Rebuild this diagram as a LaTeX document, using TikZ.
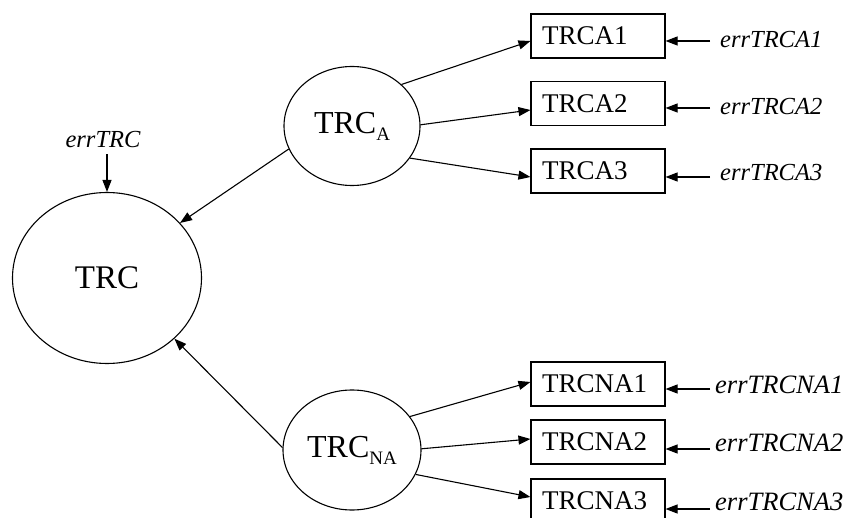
\documentclass[tikz,border=0pt]{standalone}
\usepackage{fontspec}
\setmainfont{Liberation Serif}
\usetikzlibrary{arrows.meta,shapes.geometric}
\begin{document}
\begin{tikzpicture}[x=1pt,y=-1pt,
  arr/.style={line width=1.1pt,-{Triangle[length=12pt,width=9pt]}},
  ell/.style={ellipse,draw,line width=1.1pt,inner sep=0pt},
  box/.style={draw,line width=1.1pt,minimum height=44pt,inner xsep=11pt,inner ysep=0pt,
    text width=112pt,align=left,font=\fontsize{27}{27}\selectfont},
  errA/.style={anchor=west,inner sep=0pt,font=\fontsize{24.5}{24.5}\selectfont\itshape},
  errN/.style={anchor=west,inner sep=0pt,font=\fontsize{26.5}{26.5}\selectfont\itshape}]
\clip (0,0) rectangle (845,518);
% main ellipses
\node[ell,minimum width=189pt,minimum height=171pt,font=\fontsize{33}{33}\selectfont] (TRC) at (107,278) {TRC};
\node[ell,minimum width=136pt,minimum height=119pt,font=\fontsize{32}{32}\selectfont] (TA) at (352,126)
  {TRC\raisebox{-7pt}{\fontsize{19}{19}\selectfont A}};
\node[ell,minimum width=138pt,minimum height=120pt,font=\fontsize{32}{32}\selectfont] (TNA) at (352,450)
  {TRC\raisebox{-7pt}{\fontsize{19}{19}\selectfont NA}};
\node[inner sep=0pt,font=\fontsize{24.5}{24.5}\selectfont\itshape] (eT) at (103,140) {errTRC};
% boxes
\node[box] (A1) at (598,36) {TRCA1};
\node[box] (A2) at (598,103.5) {TRCA2};
\node[box] (A3) at (598,171) {TRCA3};
\node[box] (N1) at (598,384) {TRCNA1};
\node[box] (N2) at (598,442) {TRCNA2};
\node[box] (N3) at (598,501) {TRCNA3};
% error labels
\node[errA] (eA1) at (720,40) {errTRCA1};
\node[errA] (eA2) at (720,107) {errTRCA2};
\node[errA] (eA3) at (720,173) {errTRCA3};
\node[errN] (eN1) at (715,385) {errTRCNA1};
\node[errN] (eN2) at (715,443) {errTRCNA2};
\node[errN] (eN3) at (715,502) {errTRCNA3};
% connectors to TRC
\coordinate (sT) at ([yshift=-6pt]eT.south -| TRC.north);
\draw[arr] (sT) -- (TRC.north);
\draw[arr] (TA.200.5) -- (TRC.37);
\draw[arr] (TNA.178) -- (TRC.-42);
% TRC_A / TRC_NA to indicators
\draw[arr] (TA.40) -- ([yshift=-5pt]A1.west);
\draw[arr] (TA.1) -- ([yshift=-6.5pt]A2.west);
\draw[arr] (TA.-29.5) -- ([yshift=-6pt]A3.west);
\draw[arr] (TNA.30) -- ([yshift=2pt]N1.west);
\draw[arr] (TNA.1) -- ([yshift=3pt]N2.west);
\draw[arr] (TNA.-21.6) -- ([yshift=4pt]N3.west);
% error arrows
\coordinate (sA1) at ([xshift=-10pt,yshift=-1pt]eA1.west);
\coordinate (sA2) at ([xshift=-10pt,yshift=-1pt]eA2.west);
\coordinate (sA3) at ([xshift=-10pt,yshift=-4pt]eA3.west);
\coordinate (sN1) at ([xshift=-5pt,yshift=-4pt]eN1.west);
\coordinate (sN2) at ([xshift=-5pt,yshift=-6pt]eN2.west);
\coordinate (sN3) at ([xshift=-5pt,yshift=-7pt]eN3.west);
\draw[arr] (sA1) -- (A1.east |- sA1);
\draw[arr] (sA2) -- (A2.east |- sA2);
\draw[arr] (sA3) -- (A3.east |- sA3);
\draw[arr] (sN1) -- (N1.east |- sN1);
\draw[arr] (sN2) -- (N2.east |- sN2);
\draw[arr] (sN3) -- (N3.east |- sN3);
\end{tikzpicture}
\end{document}
